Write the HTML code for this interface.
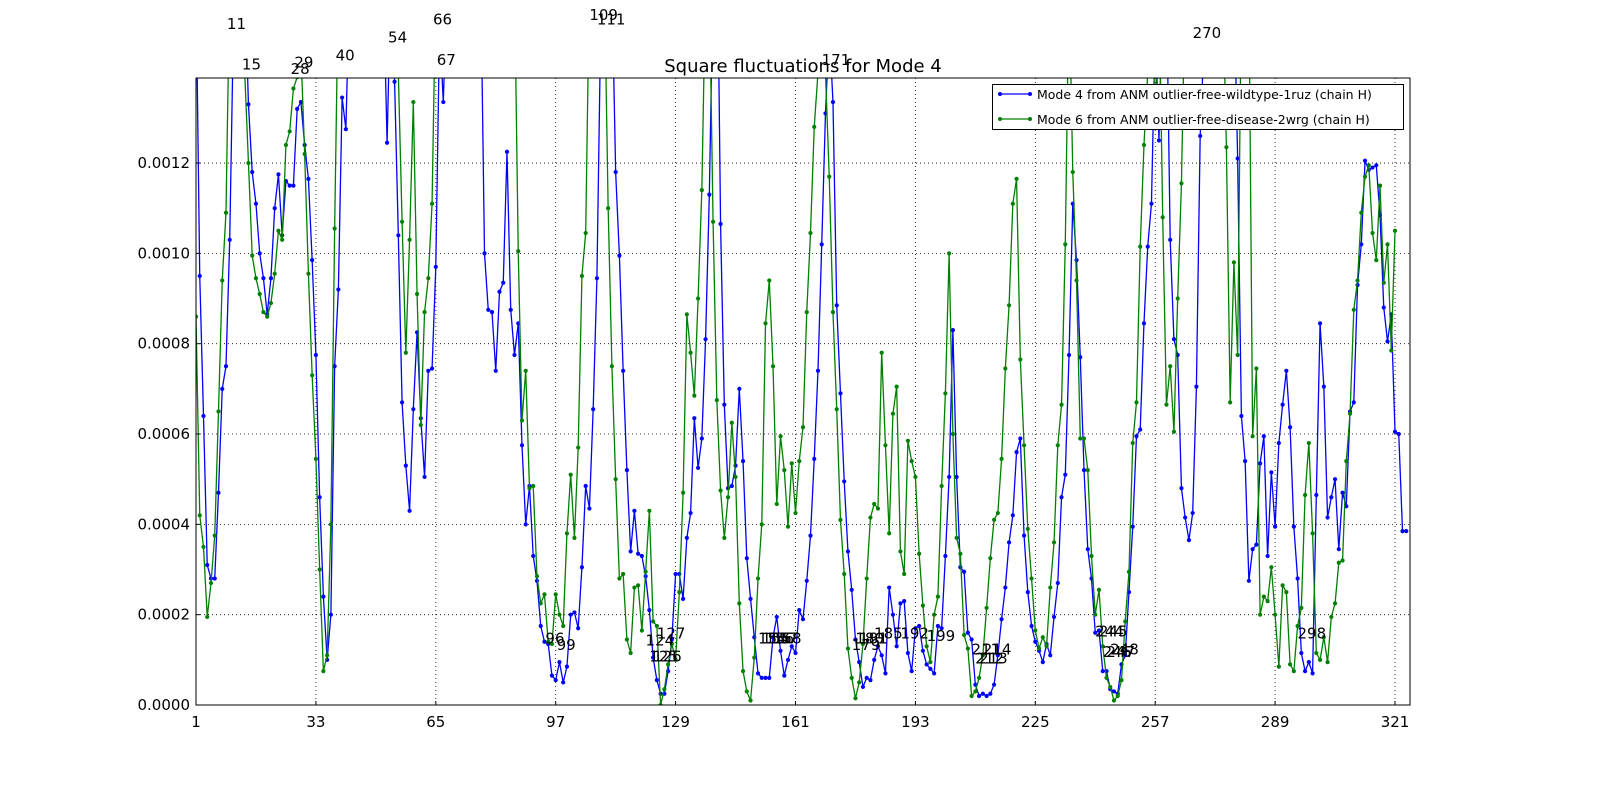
<!DOCTYPE html>
<html><head><meta charset="utf-8"><style>
body{margin:0;background:#fff;}
svg{display:block;font-family:"DejaVu Sans","Liberation Sans",sans-serif;}
</style></head><body>
<svg id="chart" width="1600" height="800" viewBox="0 0 1600 800" xmlns="http://www.w3.org/2000/svg">
<rect width="1600" height="800" fill="#fff"/>
<defs><clipPath id="pc"><rect x="196" y="78" width="1214" height="627"/></clipPath></defs>
<text x="803" y="72" font-size="18" text-anchor="middle">Square fluctuations for Mode 4</text>
<g id="grid"></g>
<g id="series" clip-path="url(#pc)"></g>
<g id="labels"></g>
<rect x="196" y="78" width="1214" height="627" fill="none" stroke="#000" stroke-width="1"/>
<g id="axes"></g>
<g>
<rect x="992.5" y="84.5" width="411" height="45" fill="#fff" stroke="#000" stroke-width="1"/>
<g>
<line x1="1000" y1="94" x2="1030" y2="94" stroke="#0000ff" stroke-width="1.3"/>
<circle cx="1000" cy="94" r="2" fill="#0000ff"/><circle cx="1030" cy="94" r="2" fill="#0000ff"/>
<text x="1037" y="99" font-size="12.5">Mode 4 from ANM outlier-free-wildtype-1ruz (chain H)</text></g>
<g>
<line x1="1000" y1="119" x2="1030" y2="119" stroke="#008000" stroke-width="1.3"/>
<circle cx="1000" cy="119" r="2" fill="#008000"/><circle cx="1030" cy="119" r="2" fill="#008000"/>
<text x="1037" y="124" font-size="12.5">Mode 6 from ANM outlier-free-disease-2wrg (chain H)</text></g>
</g>
</svg>
<script>
const xTicks=[1,33,65,97,129,161,193,225,257,289,321];
const yTicks=[0,0.0002,0.0004,0.0006,0.0008,0.0010,0.0012];
const yTickLabels=["0.0000","0.0002","0.0004","0.0006","0.0008","0.0010","0.0012"];
const wildtype=[16,9.5,6.4,3.1,2.8,2.8,4.7,7.0,7.5,10.3,15.1,18,18,16,13.3,11.8,11.1,10.0,9.45,8.65,9.45,11.0,11.75,10.4,11.6,11.5,11.5,13.2,13.35,12.4,11.65,9.85,7.75,4.6,2.4,1.0,2.0,7.5,9.2,13.45,12.75,16,18,20,20,20,20,20,20,18,16,12.45,16,13.8,10.4,6.7,5.3,4.3,6.55,8.25,6.35,5.05,7.4,7.45,9.7,15,13.35,16,18,20,20,20,20,20,20,18,16,10.0,8.75,8.7,7.4,9.15,9.35,12.25,8.75,7.75,8.45,5.75,4.0,4.85,3.3,2.75,1.75,1.4,1.35,0.65,0.55,0.95,0.5,0.85,2.0,2.05,1.7,3.05,4.85,4.35,6.55,9.45,15,18,18,16,11.8,9.95,7.4,5.2,3.4,4.3,3.35,3.3,2.85,2.1,1.05,0.55,0.25,0.25,0.75,1.45,2.9,2.9,2.35,3.7,4.25,6.35,5.25,5.9,8.1,11.3,16,18,10.65,6.65,4.8,4.85,5.3,7.0,5.4,3.25,2.35,1.5,0.7,0.6,0.6,0.6,1.5,1.95,1.2,0.65,1.0,1.3,1.15,2.1,1.9,2.75,3.75,5.45,7.4,10.2,13.1,15,13.35,8.85,6.9,4.95,3.4,2.55,1.45,0.95,0.4,0.6,0.55,1.0,1.3,1.1,0.7,2.6,2.0,1.3,2.25,2.3,1.15,0.75,1.7,1.75,1.2,0.9,0.8,0.7,1.75,1.7,3.3,5.05,8.3,5.05,3.05,2.95,1.6,1.45,0.45,0.2,0.25,0.2,0.25,0.45,1.1,1.9,2.6,3.6,4.2,5.6,5.9,3.75,2.5,1.75,1.4,1.2,0.95,1.35,1.1,1.95,2.7,4.6,5.1,7.75,11.1,9.85,7.7,5.2,3.45,2.8,1.6,1.65,0.75,0.75,0.35,0.3,0.25,0.9,1.1,2.5,3.95,5.95,6.1,8.45,10.15,11.1,15,12.5,16,16,10.3,8.1,7.75,4.8,4.15,3.65,4.25,7.05,12.6,14.6,18,20,20,20,20,20,18,16,12.1,6.4,5.4,2.75,3.45,3.55,5.35,5.95,3.3,5.15,3.95,5.8,6.65,7.4,6.15,3.95,2.8,1.15,0.75,0.95,0.7,4.65,8.45,7.05,4.15,4.6,5.0,3.45,4.7,4.4,6.5,6.7,9.3,10.2,12.05,11.85,11.9,11.95,10.85,8.8,8.05,8.65,6.05,6.0,3.85,3.85];
const disease=[8.6,4.2,3.5,1.95,2.7,3.75,6.5,9.4,10.9,16,18,18,16,14,12.0,9.95,9.45,9.1,8.7,8.6,8.9,9.55,10.5,10.3,12.4,12.7,13.65,13.9,14.5,12.2,9.55,7.3,5.45,3.0,0.75,1.1,4.0,10.55,16,18,20,20,20,20,20,20,20,20,20,20,20,20,18,16,14,10.7,7.8,10.3,13.35,9.1,6.2,8.7,9.45,11.1,16,18,20,20,20,20,20,20,20,20,20,20,20,20,20,20,20,20,20,20,18,16,10.05,6.3,7.4,4.8,4.85,2.85,2.25,2.45,1.4,1.35,2.45,2.0,1.75,3.8,5.1,3.7,5.7,9.5,10.45,16,18,20,18,16,11.0,7.5,5.0,2.8,2.9,1.45,1.15,2.6,2.65,1.65,2.95,4.3,1.85,1.75,0.0,0.35,0.9,1.35,1.0,2.5,4.7,8.65,7.8,6.85,9.0,11.4,16,16,10.7,6.75,4.75,3.7,4.6,6.25,5.05,2.25,0.75,0.3,0.1,1.05,2.8,4.0,8.45,9.4,7.5,4.45,5.95,5.2,3.95,5.35,4.25,5.4,6.15,8.7,10.45,12.8,14,16,14,11.7,8.7,6.55,4.1,2.9,1.25,0.6,0.15,0.5,1.35,2.8,4.15,4.45,4.35,7.8,5.75,3.8,6.45,7.05,3.4,2.9,5.85,5.4,5.05,3.35,2.2,1.3,0.95,2.0,2.4,4.85,6.9,10.0,6.0,3.7,3.35,1.55,1.25,0.2,0.3,0.6,1.1,2.15,3.25,4.1,4.25,5.45,7.45,8.85,11.1,11.65,7.65,5.75,3.9,2.8,1.65,1.25,1.5,1.3,2.6,3.6,5.75,6.65,10.2,16,11.8,9.4,5.9,5.9,5.2,3.3,2.0,2.55,1.3,0.6,0.4,0.1,0.2,0.55,1.85,2.95,5.8,6.7,10.15,12.4,14,16,13,16,10.8,6.65,7.5,6.05,9.0,11.55,16,18,20,20,20,20,20,20,20,18,16,12.35,6.7,9.8,7.75,16,16,16,5.95,7.45,2.0,2.4,2.3,3.05,2.0,0.85,2.65,2.5,0.9,0.75,1.75,2.15,4.65,5.8,3.8,1.15,1.0,1.5,0.95,1.95,2.25,3.15,3.2,5.4,6.45,8.75,9.4,10.9,11.7,11.95,10.45,9.85,11.5,9.35,10.2,7.85,10.5];
const labelIdx=[11,15,29,28,40,54,66,67,109,111,112,171,260,277,270,96,99,124,125,126,127,154,155,156,157,158,179,180,181,185,192,199,211,212,213,214,244,245,246,247,248,298];
const labelVal=[15.1,14.2,14.25,14.1,14.4,14.8,15.2,14.3,15.3,15.2,15.9,14.3,15.8,15.9,14.9,1.5,1.35,1.45,1.1,1.1,1.6,1.5,1.5,1.5,1.5,1.5,1.35,1.5,1.5,1.6,1.6,1.55,1.25,1.05,1.05,1.25,1.65,1.65,1.2,1.2,1.25,1.6];
const NS='http://www.w3.org/2000/svg';
const X0=196,X1=1410,Y0=705,Y1=78,IMIN=1,IMAX=325,VMAX=0.0013883;
function xs(i){return X0+(i-IMIN)/(IMAX-IMIN)*(X1-X0);}
function ys(v){return Y0-(v/VMAX)*(Y0-Y1);}
function mk(t,a,p){const e=document.createElementNS(NS,t);for(const k in a)e.setAttribute(k,a[k]);p.appendChild(e);return e;}
const grid=document.getElementById('grid'),axes=document.getElementById('axes'),ser=document.getElementById('series'),lab=document.getElementById('labels');
xTicks.forEach(t=>{const x=xs(t);
 const g=mk('line',{x1:x,x2:x,y1:Y1,y2:Y0,stroke:'#000','stroke-width':0.8,'stroke-dasharray':'1,3'},grid);
 
 const tk=mk('line',{x1:x,x2:x,y1:Y0,y2:Y0-4,stroke:'#000'},axes);
 
 const tx=mk('text',{x:x,y:Y0+22,'font-size':15,'text-anchor':'middle'},axes);tx.textContent=t;
 });
yTicks.forEach((t,k)=>{const y=ys(t);
 const g=mk('line',{x1:X0,x2:X1,y1:y,y2:y,stroke:'#000','stroke-width':0.8,'stroke-dasharray':'1,3'},grid);
 
 const tk=mk('line',{x1:X0,x2:X0+4,y1:y,y2:y,stroke:'#000'},axes);
 
 const tx=mk('text',{x:X0-6,y:y+5,'font-size':15,'text-anchor':'end'},axes);tx.textContent=yTickLabels[k];
 });
function draw(arr,col,name){
 const g=mk('g',{},ser);
 const pts=arr.map((v,i)=>xs(i+1).toFixed(2)+','+ys(v*1e-4).toFixed(2)).join(' ');
 const pl=mk('polyline',{points:pts,fill:'none',stroke:col,'stroke-width':1.3,'stroke-linejoin':'round'},g);
 
 arr.forEach((v,i)=>{const c=mk('circle',{cx:xs(i+1),cy:ys(v*1e-4),r:2.1,fill:col},g);
  });
}
draw(wildtype,'#0000ff','wildtype-series');
draw(disease,'#008000','disease-series');
labelIdx.forEach((idx,k)=>{const t=mk('text',{x:xs(idx)+3,y:ys(labelVal[k]*1e-4)+6,'font-size':15,'text-anchor':'middle'},lab);
 t.textContent=idx;});
</script>
</body></html>
